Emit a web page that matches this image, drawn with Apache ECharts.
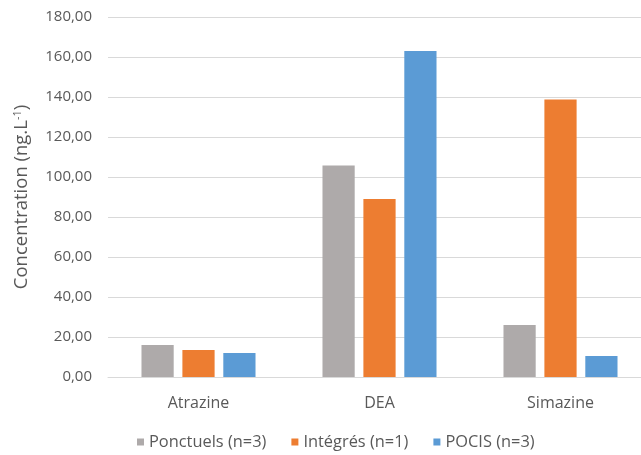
<!DOCTYPE html>
<html>
<head>
<meta charset="utf-8">
<script src="https://cdn.jsdelivr.net/npm/echarts@6/dist/echarts.min.js"></script>
<style>
  html, body { margin: 0; padding: 0; background: #ffffff; }
  #chart { width: 641px; height: 455px; }
</style>
</head>
<body>
<div id="chart"></div>
<script>
// Triazine concentrations by sampling method (ng.L-1)
const categories = ['Atrazine', 'DEA', 'Simazine'];
const seriesNames = ['Ponctuels (n=3)', 'Intégrés (n=1)', 'POCIS (n=3)'];
const ponctuels = [16.0, 105.8, 26.0];
const integres = [13.5, 89.0, 138.7];
const pocis = [12.0, 163.0, 10.5];
const yTicks = [0, 20, 40, 60, 80, 100, 120, 140, 160, 180];

const colors = ['#AEAAAA', '#ED7D31', '#5B9BD5'];
const textColor = '#595959';
const fontFamily = 'Open Sans';

const chart = echarts.init(document.getElementById('chart'), null, { renderer: 'canvas' });

const frNumber = v => v.toFixed(2).replace('.', ',');

chart.setOption({
  animation: false,
  backgroundColor: '#ffffff',
  textStyle: { fontFamily: fontFamily },
  // plot area runs past the right edge of the canvas
  grid: { left: 108, top: 17, width: 543, height: 360, containLabel: false, outerBoundsMode: 'none' },
  legend: {
    top: 429,
    left: 132,
    itemWidth: 7,
    itemHeight: 7,
    itemGap: 25,
    icon: 'rect',
    textStyle: { color: textColor, fontSize: 16.4, fontFamily: fontFamily },
    data: seriesNames
  },
  xAxis: {
    type: 'category',
    data: categories,
    axisLine: { show: true, lineStyle: { color: '#D9D9D9', width: 1 } },
    axisTick: { show: false },
    axisLabel: { color: textColor, fontSize: 16, margin: 18, fontFamily: fontFamily }
  },
  yAxis: {
    type: 'value',
    min: yTicks[0],
    max: yTicks[yTicks.length - 1],
    interval: yTicks[1] - yTicks[0],
    name: 'Concentration (ng.L{sup|-1})',
    nameLocation: 'middle',
    nameGap: 76,
    nameRotate: 90,
    nameTextStyle: {
      color: textColor,
      fontSize: 18.5,
      fontFamily: fontFamily,
      rich: {
        sup: { fontSize: 11, color: textColor, fontFamily: fontFamily, padding: [0, 0, 9, 0] }
      }
    },
    axisLine: { show: false },
    axisTick: { show: false },
    splitLine: { lineStyle: { color: '#D9D9D9', width: 1 } },
    axisLabel: {
      color: textColor,
      fontSize: 15,
      margin: 16,
      fontFamily: fontFamily,
      formatter: v => frNumber(v)
    }
  },
  series: [
    { name: seriesNames[0], type: 'bar', data: ponctuels, itemStyle: { color: colors[0] },
      barGap: '27%', barCategoryGap: '37%' },
    { name: seriesNames[1], type: 'bar', data: integres, itemStyle: { color: colors[1] },
      barGap: '27%', barCategoryGap: '37%' },
    { name: seriesNames[2], type: 'bar', data: pocis, itemStyle: { color: colors[2] },
      barGap: '27%', barCategoryGap: '37%' }
  ]
});
</script>
</body>
</html>
